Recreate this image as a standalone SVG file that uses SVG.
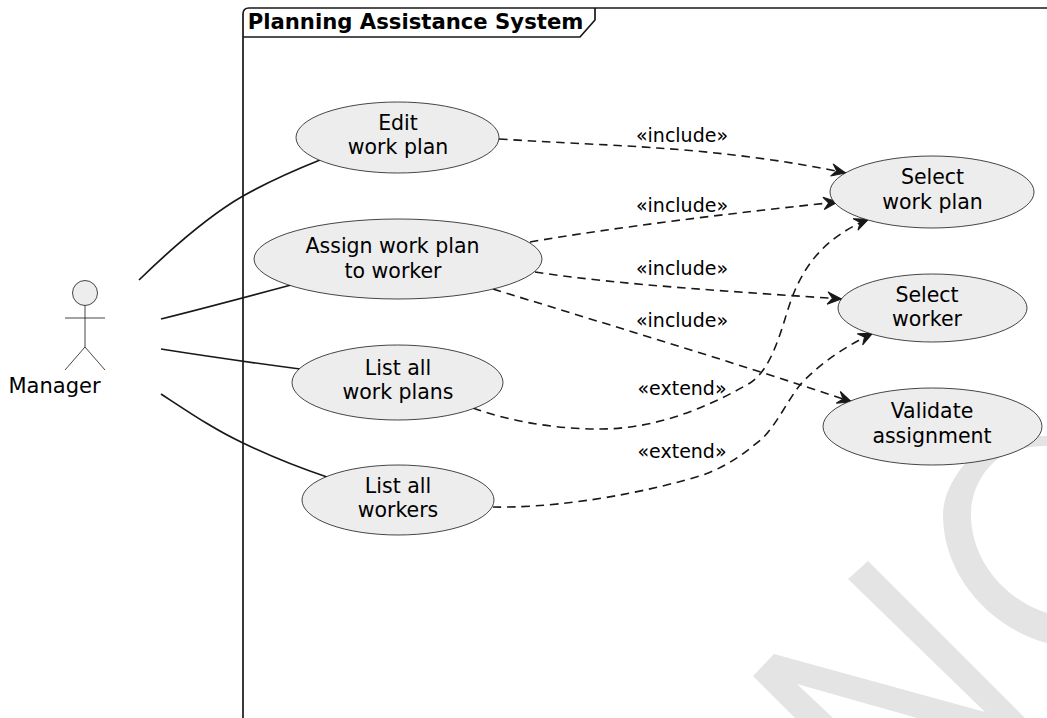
<svg xmlns="http://www.w3.org/2000/svg" width="1047" height="718" viewBox="0 0 1047 718">
<style>
text{font-family:"DejaVu Sans",sans-serif;fill:#000;text-anchor:middle}
.n{font-size:20.5px}
.l{font-size:19px}
.u{fill:#ededed;stroke:#181818;stroke-width:.8}
.a{fill:none;stroke:#181818;stroke-width:1.7}
.d{fill:none;stroke:#181818;stroke-width:1.6;stroke-dasharray:8.500 5.800;marker-end:url(#h)}
.s{fill:none;stroke:#181818;stroke-width:.8}
</style>
<defs><marker id="h" markerUnits="userSpaceOnUse" markerWidth="20" markerHeight="20" refX="15" refY="10" orient="auto" overflow="visible"><path d="M14.500 10L.5 3.800L5.500 10L.5 16.200Z" fill="#181818" stroke="#181818" stroke-width="1"/></marker></defs>
<g id="watermark"><path fill="#e4e4e4" d="M753 676L774 654L985 712L848 579L868 561L1025 718L917 718L797 684L833 718L795 718Z"/><path fill="#e4e4e4" d="M1047 436L1000 436C970 450 943 485 943 515C943 575 990 628 1047 643L1047 613C1005 600 971 560 971 515C971 490 983 470 1000 457C1015 449 1030 446 1047 446Z"/></g>
<g id="frame"><path d="M243 718V14Q243 8 249 8H1047" fill="none" stroke="#181818" stroke-width="1.7"/><path d="M243 37H580L595 20V8" fill="none" stroke="#181818" stroke-width="1.7"/><text x="415.500" y="29" font-size="21.200" font-weight="700">Planning Assistance System</text></g>
<g id="connectors">
<path class="a" d="M139 280C175 245 210 215 243 196C266 183 295 170 320 160"/>
<path class="a" d="M161 319C205 308 250 296 291 285"/>
<path class="a" d="M161 349C205 356 255 363 300 369"/>
<path class="a" d="M161 394C190 413 215 430 243 443C270 456 300 468 327 477"/>
<path class="d" d="M499 139C560 143 620 145 657 148C720 152 790 161 846 173"/>
<path class="d" d="M530 242C610 228 740 212 838 202"/>
<path class="d" d="M535 272C620 285 740 292 842 299"/>
<path class="d" d="M493 289C580 316 740 364 852 402"/>
<path class="d" d="M473 408C515 423 560 429 600 429C650 429 700 412 750 383C775 367 783 320 793 295C805 265 825 237 869 219"/>
<path class="d" d="M493 507C540 508 620 500 703 475C735 463 750 448 763 438C778 422 788 400 800 385C815 368 840 349 873 333"/>
</g>
<g id="actor"><circle class="u" cx="85" cy="293" r="12.500"/><path class="s" d="M85 305.500V347M65 318H105M65 370L85 347L105 370"/><text x="54.500" y="393" font-size="21">Manager</text></g>
<g id="edit"><ellipse class="u" cx="397.500" cy="137.500" rx="101.500" ry="35.500"/><text class="n" x="398" y="130">Edit</text><text class="n" x="398" y="154">work plan</text></g>
<g id="assign"><ellipse class="u" cx="398" cy="259" rx="144" ry="40"/><text class="n" x="392.500" y="253">Assign work plan</text><text class="n" x="393" y="278">to worker</text></g>
<g id="listplans"><ellipse class="u" cx="397.500" cy="382.500" rx="105.500" ry="37.500"/><text class="n" x="398" y="375">List all</text><text class="n" x="398" y="399">work plans</text></g>
<g id="listworkers"><ellipse class="u" cx="398" cy="500" rx="96" ry="35"/><text class="n" x="398" y="492.500">List all</text><text class="n" x="398" y="517">workers</text></g>
<g id="selectplan"><ellipse class="u" cx="932" cy="192" rx="102" ry="36"/><text class="n" x="932.500" y="184">Select</text><text class="n" x="932.500" y="209">work plan</text></g>
<g id="selectworker"><ellipse class="u" cx="932.500" cy="308" rx="94.500" ry="34"/><text class="n" x="927" y="302">Select</text><text class="n" x="927" y="326">worker</text></g>
<g id="validate"><ellipse class="u" cx="932.500" cy="426.500" rx="109.500" ry="38.500"/><text class="n" x="932" y="418">Validate</text><text class="n" x="932" y="443">assignment</text></g>
<g id="labels"><text class="l" x="682" y="142">«include»</text><text class="l" x="682" y="212">«include»</text><text class="l" x="682" y="275">«include»</text><text class="l" x="682" y="327">«include»</text><text class="l" x="682" y="395">«extend»</text><text class="l" x="682" y="458">«extend»</text></g>
</svg>
